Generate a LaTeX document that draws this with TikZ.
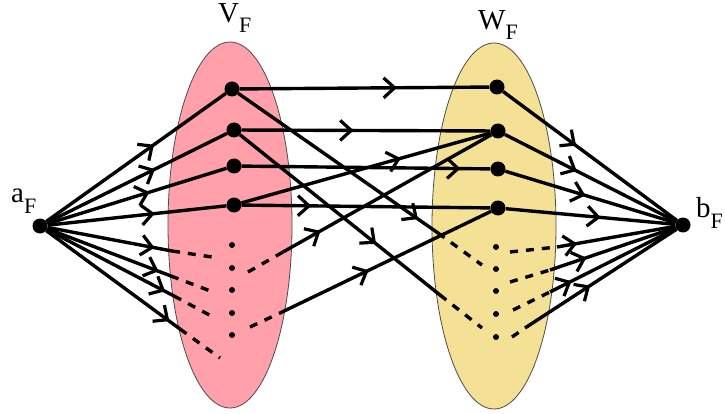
\documentclass[tikz,border=0pt]{standalone}
\usepackage{fontspec}
\setmainfont{Liberation Serif}
\usetikzlibrary{arrows.meta,decorations.markings}
\definecolor{vpink}{RGB}{255,160,170}
\definecolor{wyellow}{RGB}{245,225,150}
\newcommand{\lblF}[1]{\fontsize{29}{29}\selectfont #1\raisebox{-10pt}{\fontsize{22}{22}\selectfont F}}
\begin{document}
\begin{tikzpicture}[x=1pt,y=-1pt,
  edge/.style={line width=3.4pt},
  dsh/.style={line width=3.4pt,dash pattern=on 8pt off 8pt},
  arr/.style={postaction={decorate},decoration={markings,mark=at position #1 with {\arrow{Straight Barb[length=11pt,width=20pt,line width=3.2pt]}}}},
  bigdot/.style={circle,fill=black,inner sep=0pt,minimum size=15pt},
  smalldot/.style={circle,fill=black,inner sep=0pt,minimum size=6pt},
  lab/.style={anchor=base west,inner sep=0pt},
  blob/.style={draw=black!70,line width=0.8pt}]
\useasboundingbox (0,0) rectangle (725,414);
% sets
\draw[blob,fill=vpink] (230,225) ellipse [x radius=62pt,y radius=183pt];
\draw[blob,fill=wyellow] (494,226) ellipse [x radius=62pt,y radius=183pt];
% labels
\node[lab] (la) at (11,203) {\lblF{a}};
\node[lab] (lv) at (218,23) {\lblF{V}};
\node[lab] (lw) at (478,30) {\lblF{W}};
\node[lab] (lb) at (696,218) {\lblF{b}};
% vertices
\node[bigdot] (aF) at (40,226) {};
\node[bigdot] (V1) at (232,89) {};
\node[bigdot] (V2) at (234,130) {};
\node[bigdot] (V3) at (234,166) {};
\node[bigdot] (V4) at (234,205) {};
\node[bigdot] (W1) at (497,87) {};
\node[bigdot] (W2) at (498,131) {};
\node[bigdot] (W3) at (498,169) {};
\node[bigdot] (W4) at (498,208) {};
\node[bigdot] (bF) at (683,225) {};
\foreach \y [count=\i] in {245,268,290,313,335} \node[smalldot] (v\i) at (232,\y) {};
\foreach \y [count=\i] in {247,269,291,314,337} \node[smalldot] (w\i) at (496,\y) {};
% auxiliary points
\coordinate (P5) at (172,251); \coordinate (E5) at (212,257);
\coordinate (P6) at (171,276); \coordinate (E6) at (213,292);
\coordinate (P7) at (174,296); \coordinate (E7) at (215,318);
\coordinate (P8) at (180,329); \coordinate (E8) at (220,358);
\coordinate (P9) at (438,233); \coordinate (E9) at (482,265);
\coordinate (P10) at (440,295); \coordinate (E10) at (482,328);
\coordinate (P11) at (283,252); \coordinate (E11) at (248,272);
\coordinate (P12) at (280,313); \coordinate (E12) at (250,327);
\coordinate (P13) at (557,247); \coordinate (E13) at (510,252);
\coordinate (P14) at (550,270); \coordinate (E14) at (510,282);
\coordinate (P15) at (550,292); \coordinate (E15) at (513,310);
\coordinate (P16) at (525,328); \coordinate (E16) at (512,337);
% left fan
\draw[edge,arr=0.6] (aF) -- (V1);
\draw[edge,arr=0.6] (aF) -- (V2);
\draw[edge,arr=0.57] (aF) -- (V3);
\draw[edge,arr=0.6] (aF) -- (V4);
\draw[edge,arr=0.86] (aF) -- (P5); \draw[dsh] (P5) -- (E5);
\draw[edge,arr=0.9] (aF) -- (P6); \draw[dsh] (P6) -- (E6);
\draw[edge,arr=0.93] (aF) -- (P7); \draw[dsh] (P7) -- (E7);
\draw[edge,arr=0.92] (aF) -- (P8); \draw[dsh] (P8) -- (E8);
% middle
\draw[edge,arr=0.63] (V1) -- (W1);
\draw[edge,arr=0.45] (V2) -- (W2);
\draw[edge,arr=0.88] (V3) -- (W3);
\draw[edge,arr=0.28] (V4) -- (W4);
\draw[edge,arr=0.64] (V4) -- (W2);
\draw[edge,arr=0.9] (V1) -- (P9); \draw[dsh] (P9) -- (E9);
\draw[edge,arr=0.68] (V2) -- (P10); \draw[dsh] (P10) -- (E10);
\draw[dsh] (E11) -- (P11); \draw[edge,arr=0.18] (P11) -- (W2);
\draw[dsh] (E12) -- (P12); \draw[edge,arr=0.42] (P12) -- (W4);
% right fan
\draw[edge,arr=0.42] (W1) -- (bF);
\draw[edge,arr=0.42] (W2) -- (bF);
\draw[edge,arr=0.47] (W3) -- (bF);
\draw[edge,arr=0.56] (W4) -- (bF);
\draw[dsh] (E13) -- (P13); \draw[edge,arr=0.17] (P13) -- (bF);
\draw[dsh] (E14) -- (P14); \draw[edge,arr=0.29] (P14) -- (bF);
\draw[dsh] (E15) -- (P15); \draw[edge,arr=0.17] (P15) -- (bF);
\draw[dsh] (E16) -- (P16); \draw[edge,arr=0.43] (P16) -- (bF);
\end{tikzpicture}
\end{document}
